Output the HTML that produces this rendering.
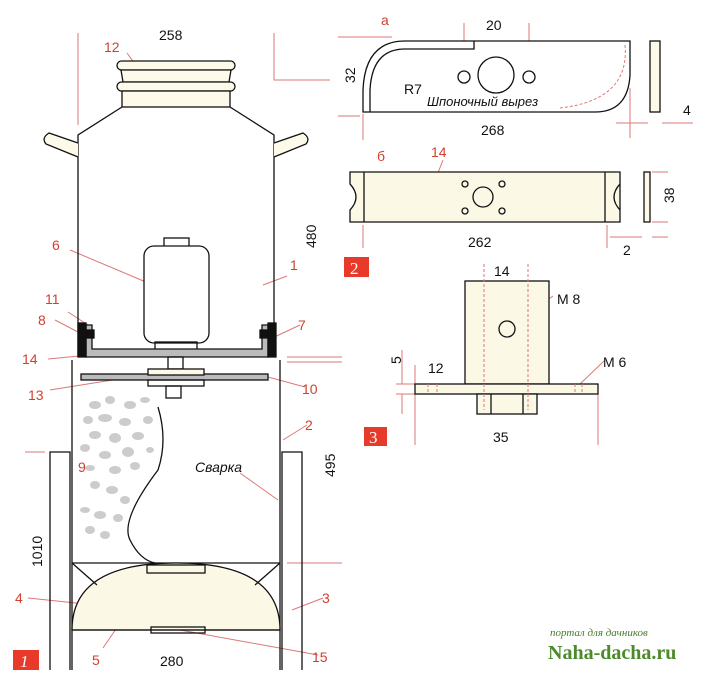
<!DOCTYPE html>
<html><head><meta charset="utf-8"><style>
body{margin:0;background:#fff}
svg{display:block;font-family:"Liberation Sans",sans-serif}
.r{fill:#d0402e;font-size:14px}
.k{fill:#111;font-size:14px}
</style></head><body>
<svg width="705" height="676" viewBox="0 0 705 676" xmlns="http://www.w3.org/2000/svg">
<g fill="none" stroke-width="1">
<!-- dimension lines red -->
<g stroke="#d77">
<line x1="78" y1="33" x2="78" y2="125"/>
<polyline points="274,33 274,80 330,80"/>
<line x1="25" y1="452" x2="45" y2="452"/>
<line x1="287" y1="563" x2="342" y2="563"/>
<line x1="287" y1="362" x2="342" y2="362"/><line x1="287" y1="357" x2="342" y2="357"/>
<line x1="338" y1="37" x2="392" y2="37"/>
<line x1="338" y1="116" x2="360" y2="116"/>
<line x1="464" y1="23" x2="464" y2="72"/><line x1="529" y1="23" x2="529" y2="72"/>
<line x1="363" y1="114" x2="363" y2="140"/><line x1="630" y1="88" x2="630" y2="138"/>
<line x1="363" y1="225" x2="363" y2="248"/><line x1="607" y1="225" x2="607" y2="248"/>
<line x1="652" y1="172" x2="668" y2="172"/><line x1="652" y1="222" x2="668" y2="222"/>
<line x1="415" y1="365" x2="415" y2="445"/><line x1="598" y1="394" x2="598" y2="445"/>
<!-- leaders -->
<line x1="127" y1="53" x2="143" y2="75"/>
<line x1="70" y1="250" x2="153" y2="285"/>
<line x1="287" y1="276" x2="263" y2="285"/>
<line x1="68" y1="312" x2="88" y2="325"/>
<line x1="55" y1="320" x2="78" y2="332"/>
<line x1="48" y1="359" x2="90" y2="355"/>
<line x1="300" y1="325" x2="268" y2="340"/>
<line x1="50" y1="390" x2="150" y2="374"/>
<line x1="305" y1="387" x2="268" y2="377"/>
<line x1="307" y1="425" x2="283" y2="440"/>
<line x1="240" y1="473" x2="278" y2="500"/>
<line x1="28" y1="598" x2="95" y2="605"/>
<line x1="323" y1="598" x2="292" y2="610"/>
<line x1="103" y1="648" x2="155" y2="572"/>
<line x1="318" y1="655" x2="180" y2="630"/>
<line x1="384" y1="62" x2="407" y2="80"/>
<line x1="443" y1="160" x2="434" y2="183"/>
<line x1="553" y1="296" x2="507" y2="329"/>
<line x1="604" y1="361" x2="580" y2="384"/>
<line x1="616" y1="123" x2="648" y2="123"/><line x1="662" y1="123" x2="693" y2="123"/>
<line x1="610" y1="237" x2="642" y2="237"/><line x1="652" y1="237" x2="668" y2="237"/>
<line x1="402" y1="350" x2="402" y2="384"/><line x1="402" y1="394" x2="402" y2="414"/>
<line x1="396" y1="384" x2="415" y2="384"/><line x1="396" y1="394" x2="415" y2="394"/>
</g>
<!-- can -->
<g stroke="#111" stroke-width="1.3">
<rect x="117" y="61" width="118" height="9" rx="4.5" fill="#fdfaea"/>
<path d="M121 70 L231 70 L229 82 L123 82Z" fill="#fdfaea"/>
<rect x="117" y="82" width="118" height="9" rx="4.5" fill="#fdfaea"/>
<rect x="122" y="91" width="108" height="16" fill="#fdfaea"/>
<polyline points="122,107 78,135 78,357"/>
<polyline points="230,107 274,135 274,357"/>
<path d="M78 143 L49 133 Q41 138 46 144 L78 157" fill="#fdfaea"/>
<path d="M274 143 L303 133 Q311 138 306 144 L274 157" fill="#fdfaea"/>
<rect x="164" y="238" width="25" height="9"/>
<rect x="144" y="246" width="65" height="97" rx="10" fill="#fff"/>
<rect x="155" y="342" width="42" height="8"/>
<path d="M86 325 L92 325 L92 349 L262 349 L262 325 L268 325 L268 357 L86 357Z" fill="#bbb"/>
<rect x="78" y="323" width="8" height="34" fill="#111"/>
<rect x="268" y="323" width="8" height="34" fill="#111"/>
<rect x="86" y="330" width="8" height="8" fill="#111"/>
<rect x="260" y="330" width="8" height="8" fill="#111"/>
<rect x="168" y="357" width="15" height="12"/>
<rect x="81" y="374" width="187" height="6" fill="#bbb"/>
<rect x="148" y="369" width="56" height="6" fill="#fdfaea"/>
<rect x="148" y="380" width="56" height="6"/>
<rect x="166" y="386" width="15" height="12"/>
<line x1="72" y1="360" x2="72" y2="670"/>
<line x1="280" y1="360" x2="280" y2="670"/>
<polyline points="50,670 50,452 70,452 70,670"/>
<polyline points="302,670 302,452 282,452 282,670"/>
<line x1="72" y1="563" x2="280" y2="563"/>
<path d="M72 630 Q72 563 176 563 Q280 563 280 630Z" fill="#fbf8e6"/>
<line x1="72" y1="630" x2="280" y2="630"/>
<line x1="72" y1="563" x2="97" y2="585"/><line x1="280" y1="563" x2="255" y2="585"/>
<rect x="147" y="565" width="58" height="8" fill="#fbf8e6"/>
<rect x="151" y="627" width="54" height="6"/>
<path d="M158 407 Q168 440 158 470 Q120 520 130 540 Q140 560 155 563"/>
</g>
<g fill="#ccc" stroke="none">
<ellipse cx="95" cy="405" rx="6" ry="4"/><ellipse cx="110" cy="400" rx="5" ry="4"/><ellipse cx="130" cy="405" rx="6" ry="4"/><ellipse cx="145" cy="400" rx="5" ry="3"/>
<ellipse cx="88" cy="420" rx="5" ry="4"/><ellipse cx="105" cy="418" rx="7" ry="4"/><ellipse cx="125" cy="422" rx="6" ry="4"/><ellipse cx="148" cy="420" rx="5" ry="4"/>
<ellipse cx="95" cy="435" rx="6" ry="4"/><ellipse cx="115" cy="438" rx="6" ry="5"/><ellipse cx="138" cy="436" rx="6" ry="4"/>
<ellipse cx="85" cy="448" rx="5" ry="4"/><ellipse cx="105" cy="455" rx="6" ry="4"/><ellipse cx="128" cy="452" rx="6" ry="5"/><ellipse cx="150" cy="450" rx="4" ry="3"/>
<ellipse cx="90" cy="468" rx="5" ry="3"/><ellipse cx="115" cy="470" rx="6" ry="4"/><ellipse cx="135" cy="466" rx="5" ry="4"/>
<ellipse cx="95" cy="485" rx="5" ry="4"/><ellipse cx="112" cy="490" rx="6" ry="4"/><ellipse cx="125" cy="500" rx="5" ry="4"/>
<ellipse cx="85" cy="510" rx="5" ry="3"/><ellipse cx="100" cy="515" rx="6" ry="4"/><ellipse cx="118" cy="518" rx="5" ry="4"/>
<ellipse cx="90" cy="530" rx="5" ry="4"/><ellipse cx="105" cy="535" rx="5" ry="4"/>
</g>
<!-- fig 2a -->
<g stroke="#111" stroke-width="1.3">
<path d="M363 112 L363 90 Q365 41 405 41 L630 41 L630 75 Q628 112 595 112Z" fill="#fff"/>
<path d="M370 112 L370 90 Q372 49 405 49 L474 49 L474 41"/>
<circle cx="464" cy="77" r="6"/><circle cx="529" cy="77" r="6"/>
<circle cx="496" cy="75" r="18"/>
<rect x="650" y="41" width="10" height="71" fill="#fdfaea"/>
<path d="M350 172 L620 172 L620 222 L350 222 L350 210 Q362 197 350 184Z M364 172 L364 222 M605 172 L605 222" fill="#fbf8e6"/>
<path d="M620 184 Q608 197 620 210" fill="none"/>
<circle cx="483" cy="197" r="10"/>
<circle cx="465" cy="184" r="3"/><circle cx="502" cy="184" r="3"/><circle cx="465" cy="211" r="3"/><circle cx="502" cy="211" r="3"/>
<rect x="644" y="172" width="6" height="50" fill="#fdfaea"/>
<rect x="465" y="281" width="84" height="103" fill="#fbf8e6"/>
<circle cx="507" cy="329" r="8"/>
<rect x="415" y="384" width="183" height="10" fill="#fbf8e6"/>
<rect x="477" y="394" width="60" height="20" fill="#fbf8e6"/>
<line x1="491" y1="394" x2="491" y2="414"/><line x1="523" y1="394" x2="523" y2="414"/>
</g>
<g stroke="#d77" stroke-dasharray="3,2">
<path d="M625 45 Q630 100 560 108 L560 108"/>
<line x1="484" y1="264" x2="484" y2="410"/><line x1="528" y1="264" x2="528" y2="410"/>
<line x1="428" y1="384" x2="428" y2="394"/><line x1="437" y1="384" x2="437" y2="394"/>
<line x1="575" y1="384" x2="575" y2="394"/><line x1="582" y1="384" x2="582" y2="394"/>
</g>
</g>
<!-- labels -->
<g class="k">
<text x="159" y="40">258</text>
<text x="300" y="248" transform="rotate(-90 308 240)">480</text>
<text x="318" y="480" transform="rotate(-90 325 470)">495</text>
<text x="28" y="567" transform="rotate(-90 35 560)">1010</text>
<text x="160" y="666">280</text>
<text x="486" y="30">20</text>
<text x="340" y="82" transform="rotate(-90 348 75)">32</text>
<text x="404" y="94">R7</text>
<text x="481" y="135">268</text>
<text x="683" y="115">4</text>
<text x="660" y="203" transform="rotate(-90 667 196)">38</text>
<text x="468" y="247">262</text>
<text x="623" y="255">2</text>
<text x="494" y="276">14</text>
<text x="557" y="304">М 8</text>
<text x="603" y="367">М 6</text>
<text x="393" y="364" transform="rotate(-90 397 360)">5</text>
<text x="428" y="373">12</text>
<text x="493" y="442">35</text>
<text x="195" y="472" font-style="italic">Сварка</text>
<text x="427" y="106" font-style="italic" font-size="13">Шпоночный вырез</text>
</g>
<g class="r">
<text x="104" y="52">12</text><text x="52" y="250">6</text><text x="290" y="270">1</text>
<text x="45" y="304">11</text><text x="38" y="325">8</text><text x="22" y="364">14</text>
<text x="298" y="330">7</text><text x="28" y="400">13</text><text x="302" y="394">10</text>
<text x="305" y="430">2</text><text x="78" y="472">9</text><text x="15" y="603">4</text>
<text x="322" y="603">3</text><text x="92" y="665">5</text><text x="312" y="662">15</text>
<text x="381" y="25">а</text><text x="377" y="161">б</text><text x="431" y="157">14</text>
</g>
<rect x="13" y="650" width="26" height="20" fill="#e83a2a"/>
<text x="20" y="667" fill="#fff" font-family="Liberation Serif" font-style="italic" font-size="17">1</text>
<rect x="344" y="257" width="25" height="20" fill="#e83a2a"/>
<text x="350" y="274" fill="#fff" font-family="Liberation Serif" font-size="17">2</text>
<rect x="364" y="427" width="23" height="19" fill="#e83a2a"/>
<text x="369" y="443" fill="#fff" font-family="Liberation Serif" font-size="17">3</text>
<text x="550" y="636" fill="#4a7a2a" font-family="Liberation Serif" font-style="italic" font-size="11">портал для дачников</text>
<text x="548" y="659" fill="#4d8a2a" font-family="Liberation Serif" font-weight="bold" font-size="20">Naha-dacha.ru</text>
</svg>
</body></html>
